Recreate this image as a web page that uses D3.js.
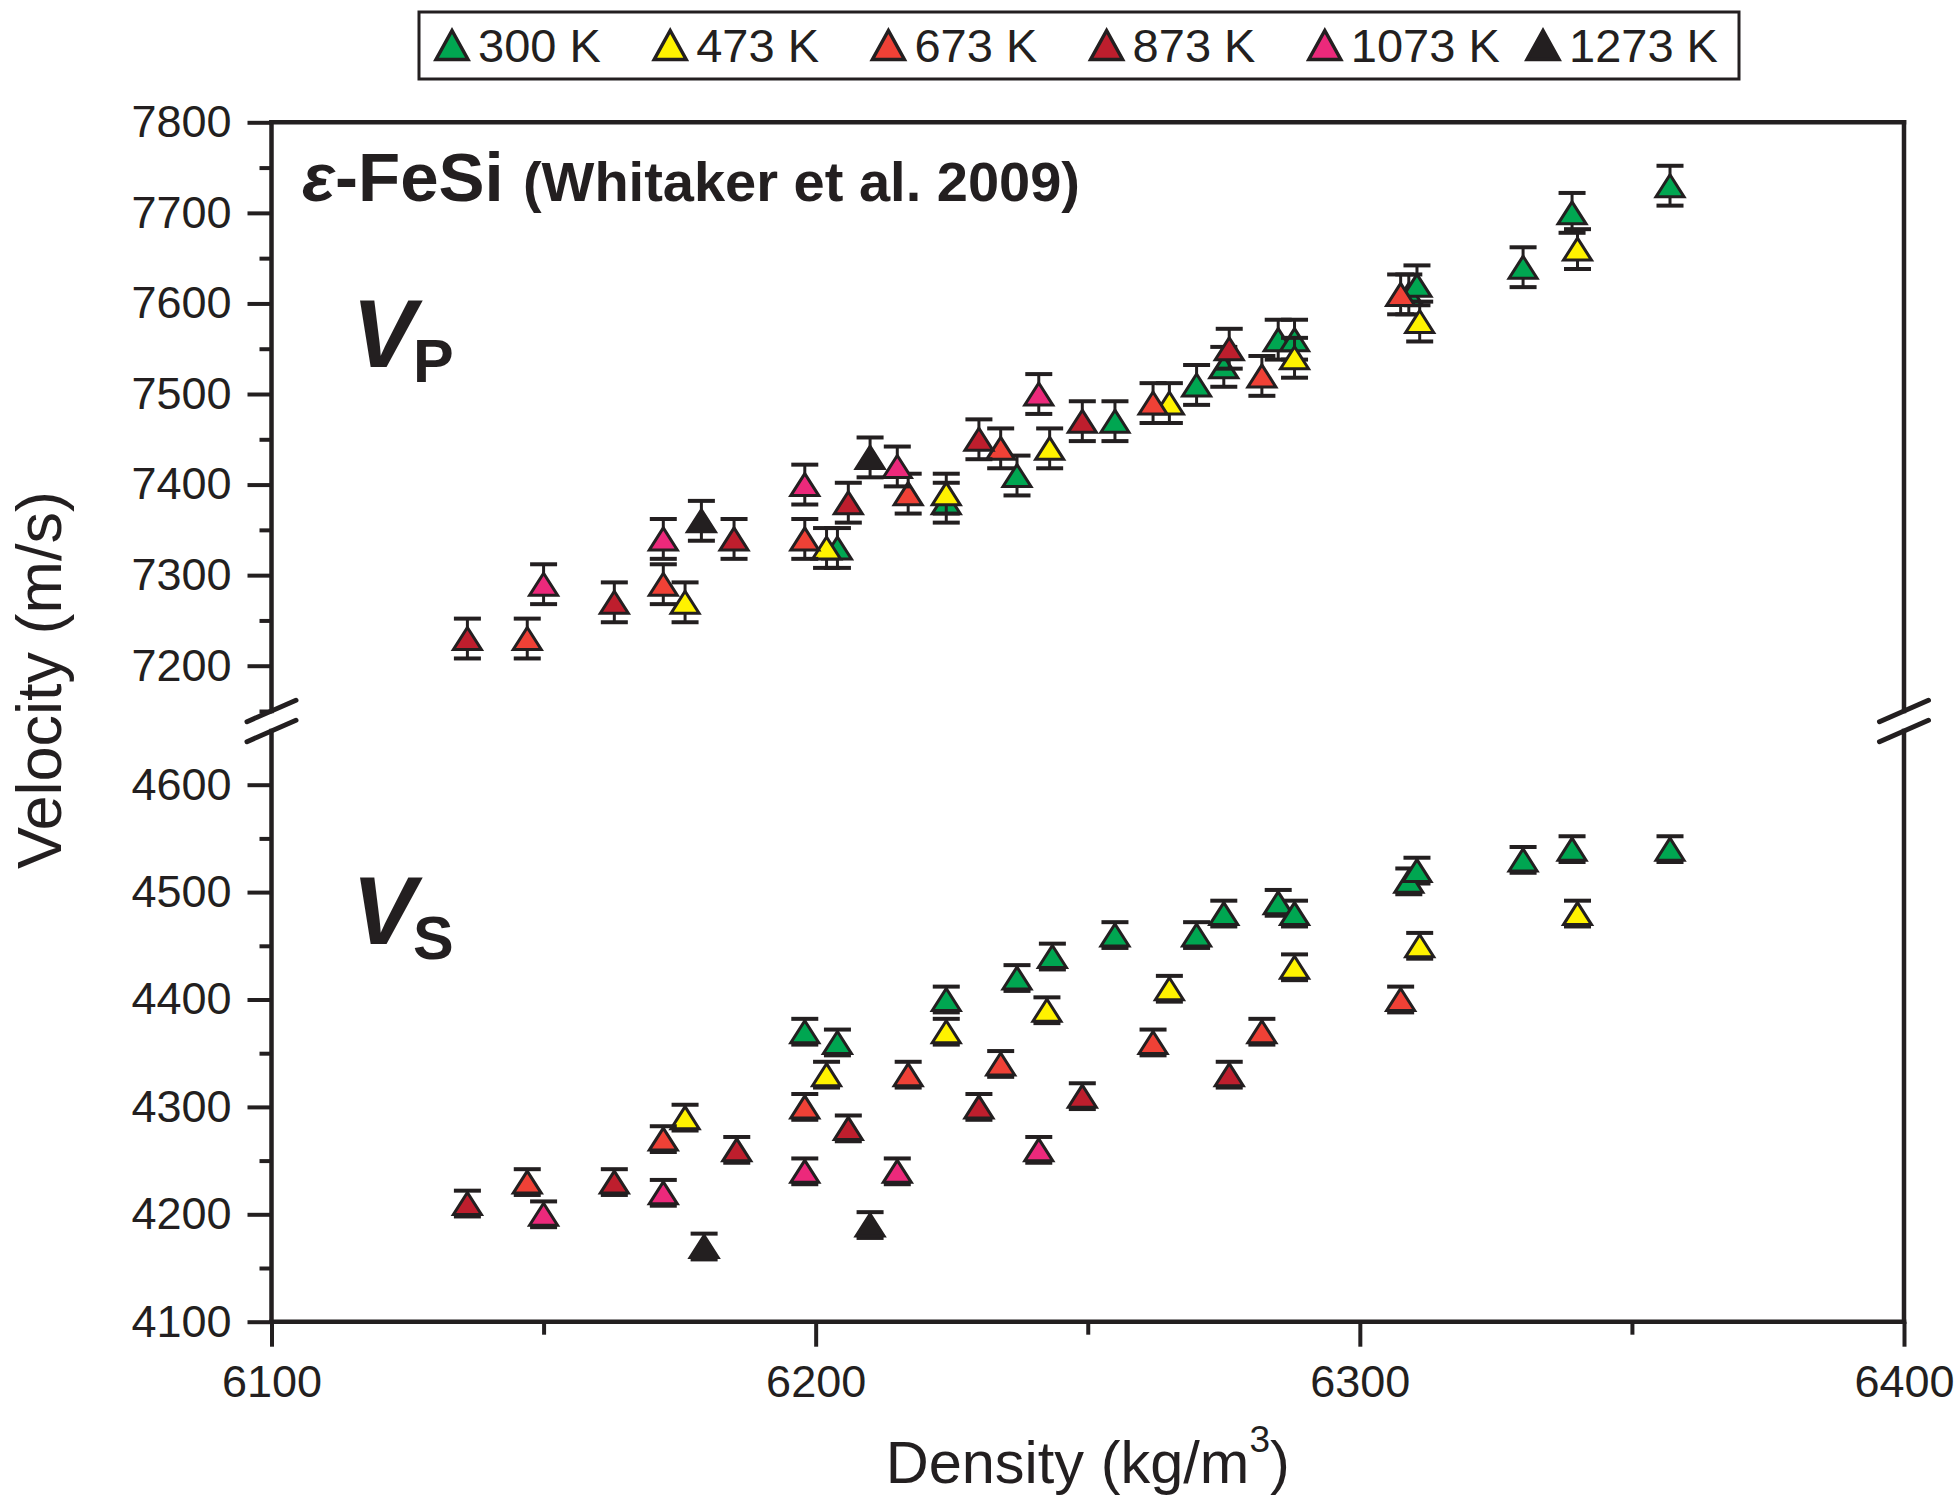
<!DOCTYPE html>
<html>
<head>
<meta charset="utf-8">
<script src="https://cdn.jsdelivr.net/npm/d3@7"></script>
<style>
	body { margin: 0; background: #fff; }
	svg { display: block; }
</style>
</head>
<body>
<main></main>
<script>

// legend order = drawing order
const temps = ["300 K", "473 K", "673 K", "873 K", "1073 K", "1273 K"];
const colors = ["#00a651", "#fff200", "#ef4136", "#be1e2d", "#ec297b", "#231f20"];

// [density (kg/m3), Vp (m/s)]
const vp300 = [[6204, 7330], [6224, 7380], [6237, 7410], [6255, 7470], [6270, 7510], [6275, 7530], [6285, 7560],
	[6288, 7560], [6309, 7610], [6310.5, 7620], [6330, 7640], [6339, 7700], [6357, 7730]];
const vp473 = [[6176, 7270], [6202, 7330], [6224, 7390], [6243, 7440], [6265, 7490], [6288, 7540], [6311, 7580], [6340, 7660]];
const vp673 = [[6147, 7230], [6172, 7290], [6198, 7340], [6217, 7390], [6234, 7440], [6262, 7490], [6282, 7520], [6307.5, 7610]];
const vp873 = [[6136, 7230], [6163, 7270], [6185, 7340], [6206, 7380], [6230, 7450], [6249, 7470], [6276, 7550]];
const vp1073 = [[6150, 7290], [6172, 7340], [6198, 7400], [6215, 7420], [6241, 7500]];
const vp1273 = [[6179, 7360], [6210, 7430]];

// [density (kg/m3), Vs (m/s)]
const vs300 = [[6198, 4370], [6204, 4360], [6224, 4400], [6237, 4420], [6243.5, 4440], [6255, 4460], [6270, 4460],
	[6275, 4480], [6285, 4490], [6288, 4480], [6309, 4510], [6310.5, 4520], [6330, 4530], [6339, 4540], [6357, 4540]];
const vs473 = [[6176, 4290], [6202, 4330], [6224, 4370], [6242.5, 4390], [6265, 4410], [6288, 4430], [6311, 4450], [6340, 4480]];
const vs673 = [[6147, 4230], [6172, 4270], [6198, 4300], [6217, 4330], [6234, 4340], [6262, 4360], [6282, 4370], [6307.5, 4400]];
const vs873 = [[6136, 4210], [6163, 4230], [6185.5, 4260], [6206, 4280], [6230, 4300], [6249, 4310], [6276, 4330]];
const vs1073 = [[6150, 4200], [6172, 4220], [6198, 4240], [6215, 4240], [6241, 4260]];
const vs1273 = [[6179.5, 4170], [6210, 4190]];

// error bars (+/- m/s)
const vpErr = 22;
const vsErr = 12;

const xTicks = [6100, 6200, 6300, 6400];
const xMinor = [6150, 6250, 6350];
const vpTicks = [7200, 7300, 7400, 7500, 7600, 7700, 7800];
const vpMinor = [7150, 7250, 7350, 7450, 7550, 7650, 7750];
const vsTicks = [4100, 4200, 4300, 4400, 4500, 4600];
const vsMinor = [4150, 4250, 4350, 4450, 4550];

const ink = "#231f20";
const font = '"Liberation Sans", Arial, Helvetica, sans-serif';

let series = temps.map((t, i) => ({
	temp: t,
	color: colors[i],
	vp: [vp300, vp473, vp673, vp873, vp1073, vp1273][i],
	vs: [vs300, vs473, vs673, vs873, vs1073, vs1273][i]
}));

// triangle centred on its bounding box
let triangle = (tw, th) => `M0,${-th / 2}L${tw / 2},${th / 2}L${-tw / 2},${th / 2}Z`;

let drawChart = (width = 1955, height = 1496) => {
	const w = width;
	const h = height;
	const margin = ({top: 122.3, right: 51, bottom: 174.3, left: 271.5});
	const gap = ({top: 711, bottom: 731}); // where the y axis is broken

	let svg = d3.select("main")
		.append("svg")
		.attr("width", w)
		.attr("height", h)
		.attr("viewBox", `0 0 ${w} ${h}`)
		.attr("font-family", font);

	let x = d3.scaleLinear()
		.domain([6100, 6400])
		.range([margin.left, w - margin.right]);

	let yP = d3.scaleLinear()
		.domain([7150, 7800])
		.range([gap.top, margin.top]);

	let yS = d3.scaleLinear()
		.domain([4100, 4650])
		.range([h - margin.bottom, gap.bottom]);

	let x0 = x.range()[0], x1 = x.range()[1];
	let yTop = yP.range()[1], yBot = yS.range()[0];

	let styleAxis = (g, size = 45) => {
		g.attr("font-family", font).attr("font-size", size);
		g.select(".domain").remove();
		g.selectAll(".tick line").attr("stroke", ink).attr("stroke-width", 4);
		g.selectAll(".tick text").attr("fill", ink);
	};

	// y axes (left), upper and lower part
	[[yP, vpTicks, vpMinor], [yS, vsTicks, vsMinor]].forEach(([y, major, minor]) => {
		svg.append("g")
			.attr("transform", `translate(${x0},0)`)
			.call(d3.axisLeft(y).tickValues(minor).tickSize(12).tickFormat(""))
			.call(styleAxis);
		svg.append("g")
			.attr("transform", `translate(${x0},0)`)
			.call(d3.axisLeft(y).tickValues(major).tickSize(24).tickPadding(16).tickFormat(d3.format("d")))
			.call(styleAxis);
	});

	// x axis
	svg.append("g")
		.attr("transform", `translate(0,${yBot})`)
		.call(d3.axisBottom(x).tickValues(xMinor).tickSize(13).tickFormat(""))
		.call(styleAxis);
	svg.append("g")
		.attr("transform", `translate(0,${yBot})`)
		.call(d3.axisBottom(x).tickValues(xTicks).tickSize(25).tickPadding(18).tickFormat(d3.format("d")))
		.call(g => styleAxis(g, 45));

	// frame, broken on both sides
	let frame = [
		`M${x0},${yTop}H${x1}`,
		`M${x0},${yBot}H${x1}`,
		`M${x0},${yTop}V${gap.top}M${x0},${gap.bottom}V${yBot}`,
		`M${x1},${yTop}V${gap.top}M${x1},${gap.bottom}V${yBot}`
	];
	svg.append("g")
		.selectAll("path")
		.data(frame)
		.join("path")
		.attr("d", d => d)
		.attr("fill", "none")
		.attr("stroke", ink)
		.attr("stroke-width", 4.5)
		.attr("stroke-linecap", "square");

	// break marks
	let breaks = [];
	[x0, x1].forEach(bx => [gap.top, gap.bottom].forEach(by => breaks.push([bx, by])));
	svg.append("g")
		.selectAll("line")
		.data(breaks)
		.join("line")
		.attr("x1", d => d[0] - 24.5)
		.attr("y1", d => d[1] + 10.7)
		.attr("x2", d => d[0] + 24.5)
		.attr("y2", d => d[1] - 10.7)
		.attr("stroke", ink)
		.attr("stroke-width", 5)
		.attr("stroke-linecap", "round");

	// points with error bars
	let marker = triangle(28, 22);
	let plotSeries = (key, y, err) => {
		let g = svg.append("g")
			.selectAll("g")
			.data(series)
			.join("g");

		let bars = g.selectAll("g")
			.data(s => s[key])
			.join("g")
			.attr("stroke", ink)
			.attr("fill", "none");
		bars.append("line")
			.attr("x1", d => x(d[0])).attr("x2", d => x(d[0]))
			.attr("y1", d => y(d[1] - err)).attr("y2", d => y(d[1] + err))
			.attr("stroke-width", 3);
		bars.append("line")
			.attr("x1", d => x(d[0]) - 13.5).attr("x2", d => x(d[0]) + 13.5)
			.attr("y1", d => y(d[1] + err)).attr("y2", d => y(d[1] + err))
			.attr("stroke-width", 4);
		bars.append("line")
			.attr("x1", d => x(d[0]) - 13.5).attr("x2", d => x(d[0]) + 13.5)
			.attr("y1", d => y(d[1] - err)).attr("y2", d => y(d[1] - err))
			.attr("stroke-width", 4);

		g.selectAll("path")
			.data(s => s[key].map(p => ({p, color: s.color})))
			.join("path")
			.attr("d", marker)
			.attr("transform", d => `translate(${x(d.p[0])},${y(d.p[1])})`)
			.attr("fill", d => d.color)
			.attr("stroke", ink)
			.attr("stroke-width", 3);
	};
	plotSeries("vp", yP, vpErr);
	plotSeries("vs", yS, vsErr);

	// axis titles
	svg.append("text")
		.attr("x", (x0 + x1) / 2)
		.attr("y", 1483)
		.attr("text-anchor", "middle")
		.attr("font-size", 59.5)
		.attr("fill", ink)
		.call(t => {
			t.append("tspan").text("Density (kg/m");
			t.append("tspan").attr("font-size", 37).attr("dy", -31).text("3");
			t.append("tspan").attr("dy", 31).text(")");
		});

	svg.append("text")
		.attr("transform", `translate(61,680) rotate(-90)`)
		.attr("text-anchor", "middle")
		.attr("font-size", 63)
		.attr("fill", ink)
		.text("Velocity (m/s)");

	// annotations
	svg.append("text")
		.attr("x", 302)
		.attr("y", 201)
		.attr("font-weight", "bold")
		.attr("fill", ink)
		.call(t => {
			t.append("tspan").attr("font-size", 69).attr("font-style", "italic").text("ε");
			t.append("tspan").attr("font-size", 69).text("-FeSi ");
			t.append("tspan").attr("font-size", 56).text("(Whitaker et al. 2009)");
		});

	let label = (sub, base) => {
		svg.append("text")
			.attr("x", 352)
			.attr("y", base)
			.attr("font-weight", "bold")
			.attr("fill", ink)
			.call(t => {
				t.append("tspan").attr("font-size", 96).attr("font-style", "italic").text("V");
				t.append("tspan").attr("font-size", 61).attr("dx", -3).attr("dy", 15).text(sub);
			});
	};
	label("P", 367);
	label("S", 944);

	// legend
	let legend = svg.append("g");
	legend.append("rect")
		.attr("x", 419)
		.attr("y", 12)
		.attr("width", 1320)
		.attr("height", 67)
		.attr("fill", "#fff")
		.attr("stroke", ink)
		.attr("stroke-width", 3);

	let lx = d3.scalePoint()
		.domain(temps)
		.range([452, 1543]);

	let item = legend.selectAll("g")
		.data(series)
		.join("g")
		.attr("transform", d => `translate(${lx(d.temp)},45)`);
	item.append("path")
		.attr("d", triangle(32, 29))
		.attr("fill", d => d.color)
		.attr("stroke", ink)
		.attr("stroke-width", 3.5);
	item.append("text")
		.attr("x", 26)
		.attr("y", 17)
		.attr("font-size", 47)
		.attr("fill", ink)
		.text(d => d.temp);
};

drawChart();

</script>
</body>
</html>
